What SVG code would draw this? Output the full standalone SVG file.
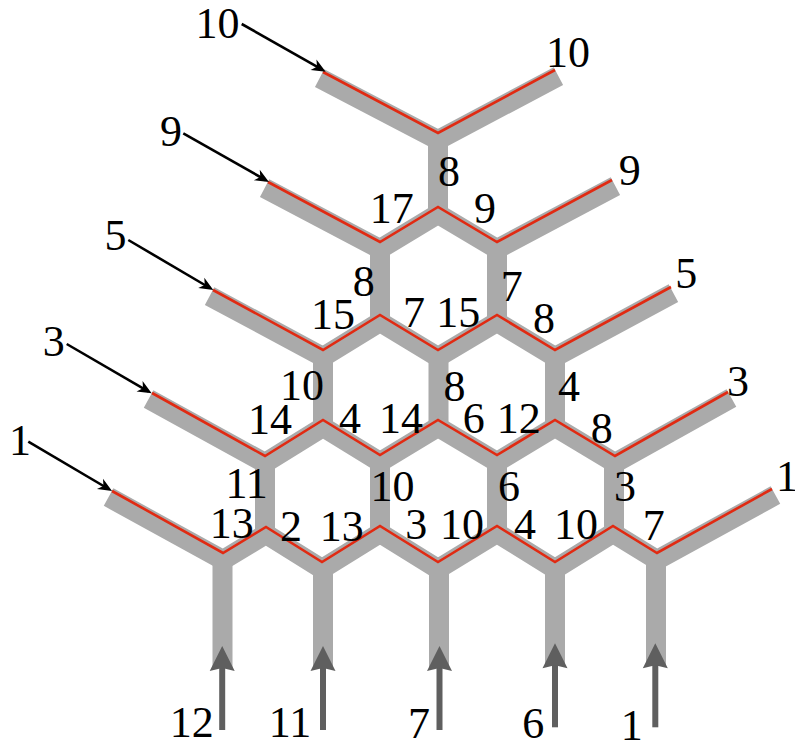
<svg xmlns="http://www.w3.org/2000/svg" width="795" height="746" viewBox="0 0 795 746">
  <style>
    .pipe { fill: none; stroke: #aaaaaa; stroke-width: 20; stroke-linejoin: miter; stroke-linecap: butt; }
    .flow { fill: none; stroke: #e12a12; stroke-width: 2.6; stroke-linejoin: miter; }
    .in { fill: none; stroke: #000000; stroke-width: 2.6; marker-end: url(#stealth); }
    .feed { fill: none; stroke: #5f5f5f; stroke-width: 6; marker-end: url(#feedhead); }
    text { font-family: "Liberation Serif", "Times New Roman", serif; font-size: 44px; fill: #000; text-anchor: middle; }
  </style>
  <defs>
    <marker id="stealth" markerUnits="userSpaceOnUse" viewBox="-15 -8 17 16" markerWidth="17" markerHeight="16" refX="-4" refY="0" orient="auto">
      <path d="M0,0 L-14,-6 L-10,0 L-14,6 Z" fill="#000000"/>
    </marker>
    <marker id="feedhead" markerUnits="userSpaceOnUse" viewBox="-27 -14 29 28" markerWidth="29" markerHeight="28" refX="-15" refY="0" orient="auto">
      <path d="M0,0 L-25,-12.5 L-22,0 L-25,12.5 Z" fill="#5f5f5f"/>
    </marker>
  </defs>

  <!-- grey channel network -->
  <g id="lattice">
    <g id="row1">
      <polyline class="pipe" points="319.6,78.1 438,140 558.4,76.1"/>
      <line class="pipe" x1="438" y1="140" x2="438" y2="214"/>
    </g>
    <g id="row2">
      <polyline class="pipe" points="264.6,188.1 380,249 438,214 497,249 615.4,186.1"/>
      <line class="pipe" x1="380" y1="249" x2="380" y2="322"/>
      <line class="pipe" x1="497" y1="249" x2="497" y2="322"/>
    </g>
    <g id="row3">
      <polyline class="pipe" points="209.6,296.1 323,357 380,322 438,357 497,322 555,357 673.4,293.1"/>
      <line class="pipe" x1="323" y1="357" x2="323" y2="427"/>
      <line class="pipe" x1="438.5" y1="357" x2="438.5" y2="427"/>
      <line class="pipe" x1="555" y1="357" x2="555" y2="427"/>
    </g>
    <g id="row4">
      <polyline class="pipe" points="148.6,399.1 265,463 323,427 380,462 438,427 497,462 555,427 615,463 731.4,398.1"/>
      <line class="pipe" x1="265" y1="463" x2="265" y2="534"/>
      <line class="pipe" x1="380" y1="462" x2="380" y2="533"/>
      <line class="pipe" x1="497" y1="462" x2="497" y2="533"/>
      <line class="pipe" x1="614" y1="463" x2="614" y2="533"/>
    </g>
    <g id="row5">
      <polyline class="pipe" points="108.6,497.1 223,560 266,534 322,569 380,533 438,569 497,533 555,569 613,533 657,560 775.4,495.1"/>
      <line class="pipe" x1="222.5" y1="560" x2="222.5" y2="668"/>
      <line class="pipe" x1="323" y1="569" x2="323" y2="668"/>
      <line class="pipe" x1="439" y1="569" x2="439" y2="668"/>
      <line class="pipe" x1="555" y1="569" x2="555" y2="666"/>
      <line class="pipe" x1="656" y1="560" x2="656" y2="666"/>
    </g>
  </g>

  <!-- red routes along the upper walls -->
  <g id="routes">
    <polyline class="flow" points="323,72 438,133 555,70"/>
    <polyline class="flow" points="268,182 380,242 438,207 497,242 612,180"/>
    <polyline class="flow" points="213,290 323,350 380,315 438,350 497,315 555,350 671,287"/>
    <polyline class="flow" points="152,393 265,456 323,420 380,455 438,420 497,455 555,420 615,456 728,392"/>
    <polyline class="flow" points="112,491 223,553 266,527 322,562 380,526 438,562 497,526 555,562 613,526 657,553 772,489"/>
  </g>

  <!-- inlet arrows -->
  <g id="connectors">
    <line class="in" x1="241.7" y1="24" x2="322.2" y2="69.7"/>
    <line class="in" x1="183.3" y1="133.3" x2="265.5" y2="180"/>
    <line class="in" x1="128.3" y1="240" x2="209.9" y2="288"/>
    <line class="in" x1="66.7" y1="344" x2="148.2" y2="391.3"/>
    <line class="in" x1="28.3" y1="441.7" x2="108.6" y2="489"/>
    <line class="feed" x1="222.2" y1="730" x2="222.2" y2="661"/>
    <line class="feed" x1="323" y1="730" x2="323" y2="661"/>
    <line class="feed" x1="439.5" y1="730" x2="439.5" y2="661"/>
    <line class="feed" x1="555" y1="727.3" x2="555" y2="658.3"/>
    <line class="feed" x1="655.3" y1="727.3" x2="655.3" y2="658.3"/>
  </g>

  <g id="labels">
    <text x="217.5" y="38">10</text>
    <text x="568" y="66.7">10</text>
    <text x="171" y="146">9</text>
    <text x="449" y="186">8</text>
    <text x="629.7" y="185">9</text>
    <text x="391.7" y="222.7">17</text>
    <text x="485" y="222.5">9</text>
    <text x="115.5" y="250">5</text>
    <text x="686.3" y="288">5</text>
    <text x="363.7" y="296">8</text>
    <text x="511.7" y="301">7</text>
    <text x="333" y="329">15</text>
    <text x="414" y="326.5">7</text>
    <text x="458.3" y="326.7">15</text>
    <text x="544" y="333">8</text>
    <text x="53.7" y="356">3</text>
    <text x="738" y="396">3</text>
    <text x="302" y="400">10</text>
    <text x="454.5" y="401">8</text>
    <text x="569" y="401">4</text>
    <text x="270" y="434">14</text>
    <text x="350" y="433">4</text>
    <text x="401" y="433">14</text>
    <text x="473.7" y="433">6</text>
    <text x="518.8" y="433">12</text>
    <text x="601.7" y="443">8</text>
    <text x="20" y="455">1</text>
    <text x="787" y="491">1</text>
    <text x="246.7" y="498">11</text>
    <text x="392.5" y="501">10</text>
    <text x="509" y="501">6</text>
    <text x="625" y="501">3</text>
    <text x="231.7" y="538">13</text>
    <text x="291" y="541">2</text>
    <text x="341.7" y="541">13</text>
    <text x="416.3" y="539">3</text>
    <text x="462" y="539">10</text>
    <text x="525" y="539">4</text>
    <text x="576" y="539">10</text>
    <text x="653.7" y="540">7</text>
    <text x="191.7" y="737">12</text>
    <text x="290" y="737">11</text>
    <text x="419" y="738">7</text>
    <text x="533.3" y="738">6</text>
    <text x="631.7" y="740">1</text>
  </g>
</svg>
